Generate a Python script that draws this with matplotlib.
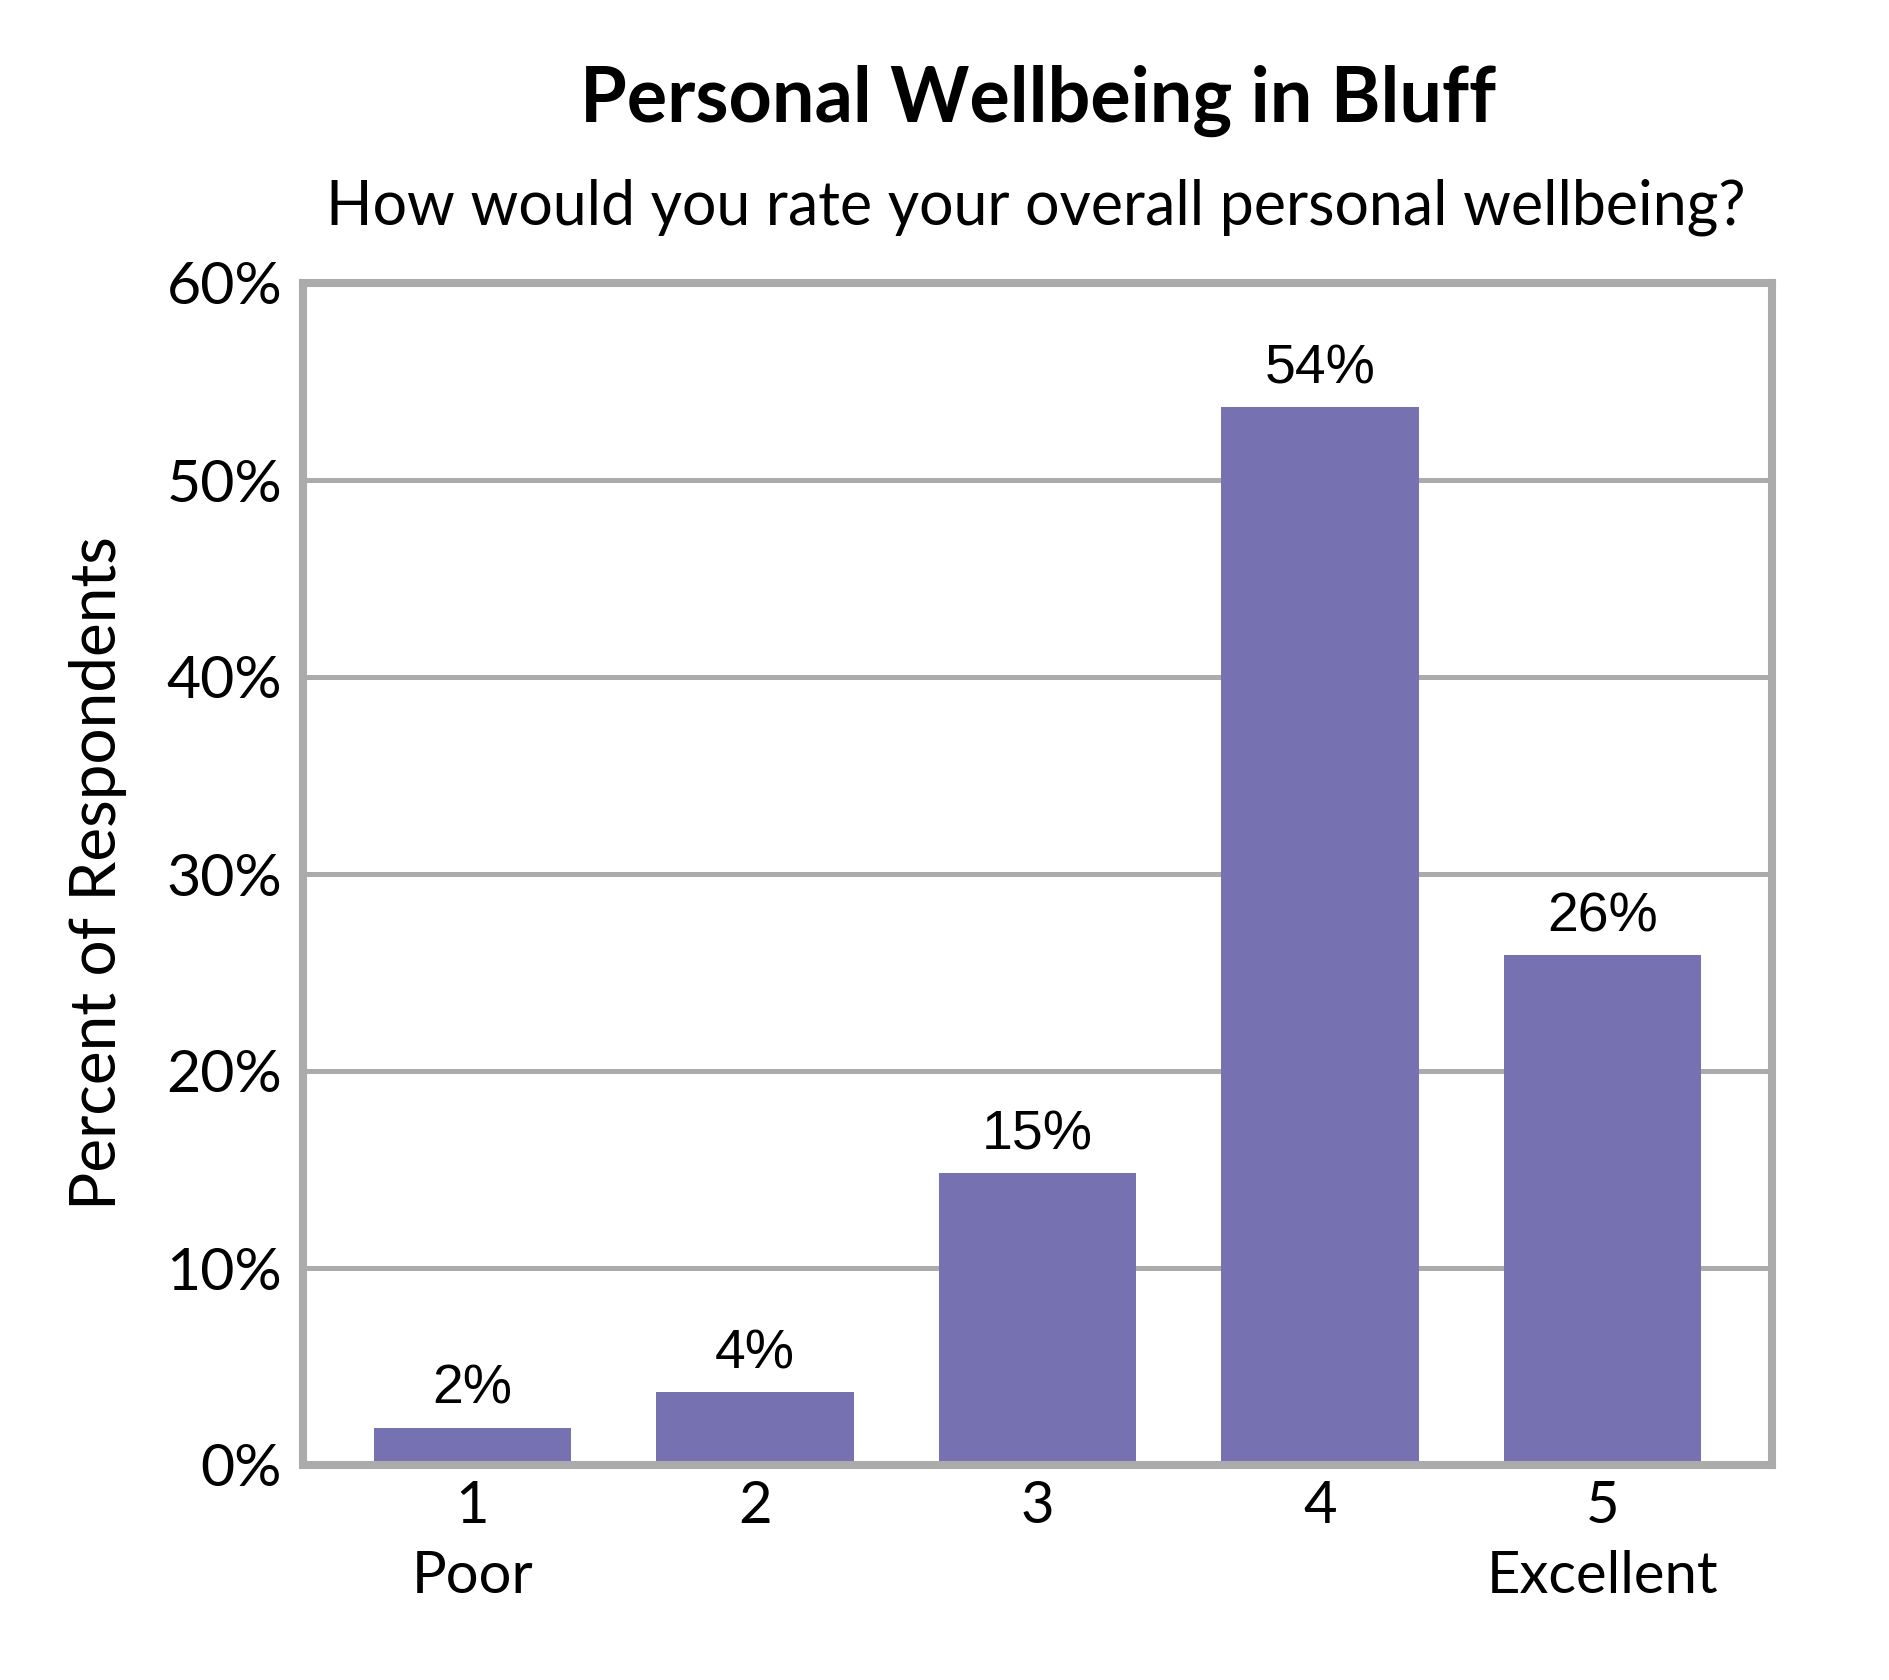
import matplotlib
matplotlib.use("Agg")
import matplotlib.pyplot as plt
from matplotlib.ticker import FixedLocator

# ---- data ----
categories = ["1\nPoor", "2", "3", "4", "5\nExcellent"]
values = [1.9, 3.7, 14.8, 53.7, 25.9]
value_labels = ["2%", "4%", "15%", "54%", "26%"]
yticks = [0, 10, 20, 30, 40, 50, 60]
ytick_labels = ["0%", "10%", "20%", "30%", "40%", "50%", "60%"]
title = "Personal Wellbeing in Bluff"
subtitle = "How would you rate your overall personal wellbeing?"
ylabel = "Percent of Respondents"

W, H = 1890, 1680
DPI = 100
BAR = "#7672B2"
GREY = "#ABABAB"
CAL = ["Lato", "DejaVu Sans"]
ARI = ["Liberation Sans", "DejaVu Sans"]

fig = plt.figure(figsize=(W / DPI, H / DPI), dpi=DPI)
fig.patch.set_facecolor("white")

def fx(px):
    return px / W

def fy(py):
    return 1 - py / H

ax = fig.add_axes([fx(303), fy(1465), fx(1772) - fx(303), fy(283) - fy(1465)])
x = list(range(len(categories)))
ax.bar(x, values, width=0.70, color=BAR, zorder=3)
ax.set_xlim(-0.6, len(categories) - 0.4)
ax.set_ylim(0, 60)

ax.yaxis.set_major_locator(FixedLocator(yticks))
ax.set_yticklabels(ytick_labels, fontfamily=CAL)
ax.set_xticks(x)
ax.set_xticklabels(categories, fontfamily=CAL, linespacing=1.38)
ax.tick_params(axis="both", length=0)
ax.tick_params(axis="y", pad=15)
ax.tick_params(axis="x", pad=11)
ax.grid(axis="y", color=GREY, linewidth=3.6, zorder=1)
ax.set_axisbelow(True)
for s in ax.spines.values():
    s.set_color(GREY)
    s.set_linewidth(5.8)
    s.set_zorder(4)

# data labels
anns = []
for xi, v, lab in zip(x, values, value_labels):
    a = ax.annotate(lab, (xi, v), xytext=(0, 17), textcoords="offset points",
                    ha="center", va="baseline", fontfamily=ARI, fontsize=40, color="black",
                    zorder=5)
    anns.append(a)

t_title = fig.text(fx(1038), fy(122), title, ha="center", va="baseline",
                   fontfamily=CAL, fontweight="bold", fontsize=50)
t_sub = fig.text(fx(1036), fy(224), subtitle, ha="center", va="baseline",
                 fontfamily=CAL, fontsize=36)
t_ylab = fig.text(fx(98), fy(873), ylabel, ha="center", va="center", rotation=90,
                  fontfamily=CAL, fontsize=36)

# ---- fit font sizes to measured widths ----
fig.canvas.draw()
r = fig.canvas.get_renderer()

def fit_w(t, target):
    bb = t.get_window_extent(r)
    t.set_fontsize(t.get_fontsize() * target / bb.width)

def fit_h(t, target):
    bb = t.get_window_extent(r)
    t.set_fontsize(t.get_fontsize() * target / bb.height)

fit_w(t_title, 918)
fit_w(t_sub, 1421)
fit_h(t_ylab, 674)

ax.tick_params(axis="y", labelsize=36)
ax.tick_params(axis="x", labelsize=36)
fig.canvas.draw()
ylabs = ax.get_yticklabels()
bb = ylabs[4].get_window_extent(r)
ax.tick_params(axis="y", labelsize=36 * 116 / bb.width)
tmp = fig.text(0, 0, "Excellent", fontfamily=CAL, fontsize=36)
bb = tmp.get_window_extent(r)
ax.tick_params(axis="x", labelsize=36 * 232 / bb.width)
tmp.remove()

tmp = fig.text(0, 0, "15%", fontfamily=ARI, fontsize=40)
bb = tmp.get_window_extent(r)
dsize = 40 * 111 / bb.width
tmp.remove()
for a in anns:
    a.set_fontsize(dsize)

fig.savefig("out.png", dpi=DPI, facecolor="white")
